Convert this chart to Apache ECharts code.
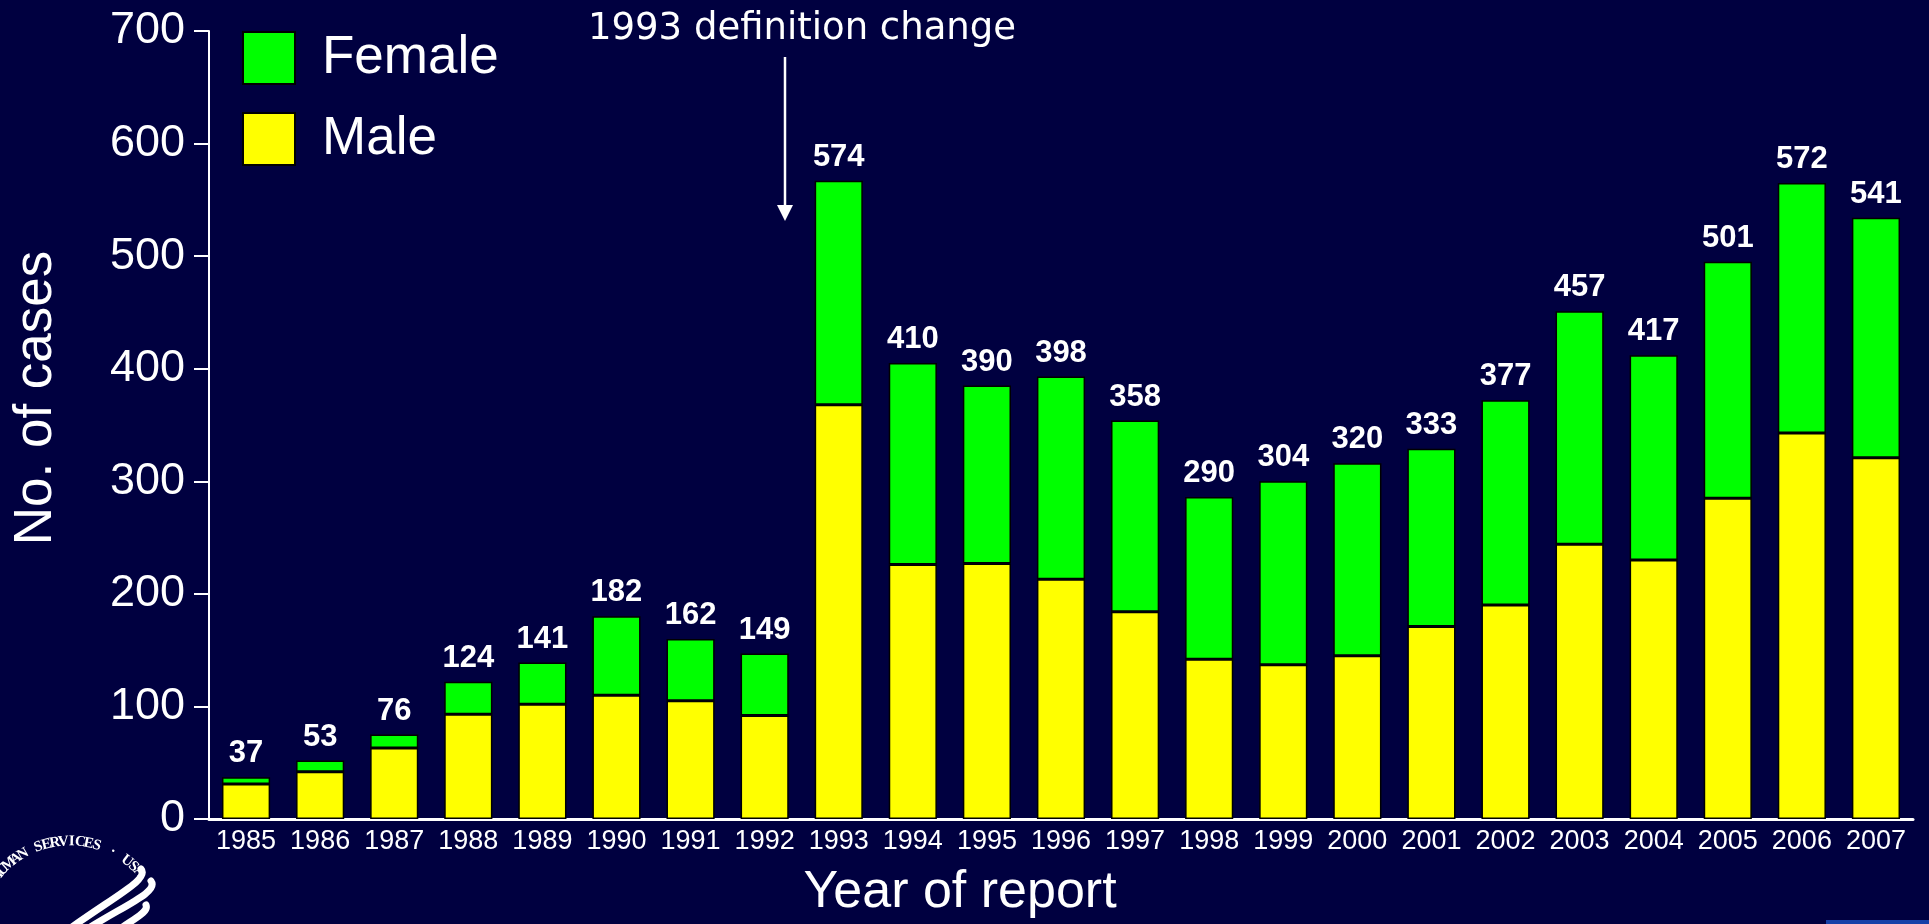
<!DOCTYPE html>
<html>
<head>
<meta charset="utf-8">
<title>No. of cases by year of report</title>
<script src="https://cdn.jsdelivr.net/npm/echarts@6.0.0/dist/echarts.min.js"></script>
<style>
  html, body { margin: 0; padding: 0; background: #000040; }
  #chart { width: 1929px; height: 924px; }
</style>
</head>
<body>
<div id="chart"></div>
<script>
// values
var years = ["1985", "1986", "1987", "1988", "1989", "1990", "1991", "1992", "1993", "1994", "1995", "1996",
  "1997", "1998", "1999", "2000", "2001", "2002", "2003", "2004", "2005", "2006", "2007"];
var male = [31, 42, 63, 93, 102, 110, 105, 92, 368, 226, 227, 213, 184, 142, 137, 145, 171, 190, 244, 230, 285, 343, 321];
var female = [6, 10, 12, 29, 37, 70, 55, 55, 199, 179, 158, 180, 170, 144, 163, 171, 158, 182, 207, 182, 210, 222, 213];
var totals = [37, 53, 76, 124, 141, 182, 162, 149, 574, 410, 390, 398, 358, 290, 304, 320, 333, 377, 457, 417, 501, 572, 541];

var font = "'Liberation Sans', Arial, sans-serif";

var chart = echarts.init(document.getElementById("chart"));

// seal text along an arc, bottom left corner
var sealText = "HUMAN SERVICES \u00b7 USA";
var seal = [];
var a0 = 219, a1 = 318;
for (var i = 0; i < sealText.length; i++) {
  var a = (a0 + (a1 - a0) * i / (sealText.length - 1)) * Math.PI / 180;
  seal.push({
    type: "text",
    x: 70 + 86 * Math.cos(a),
    y: 935 + 86 * Math.sin(a),
    rotation: -(a + Math.PI / 2),
    style: {
      text: sealText[i],
      fill: "#fff",
      font: "bold 15px 'Liberation Serif', serif",
      align: "center",
      verticalAlign: "bottom"
    }
  });
}
var stripes = [
  [141, 869, 149, 879, 120, 893, 72, 927],
  [151, 881, 159, 892, 125, 905, 84, 931],
  [146, 905, 149, 912, 135, 918, 117, 931]
];
stripes.forEach(function (s) {
  seal.push({
    type: "bezierCurve",
    shape: { x1: s[0], y1: s[1], cpx1: s[2], cpy1: s[3], cpx2: s[4], cpy2: s[5], x2: s[6], y2: s[7] },
    style: { stroke: "#fff", lineWidth: 7, lineCap: "round", fill: null }
  });
});

var option = {
  backgroundColor: "#000040",
  animation: false,
  grid: { left: 209, right: 16, top: 31, bottom: 102 },
  legend: {
    data: ["Female", "Male"],
    orient: "vertical",
    left: 242,
    top: 31,
    padding: 0,
    icon: "rect",
    itemWidth: 52,
    itemHeight: 52,
    itemGap: 27,
    textStyle: { color: "#fff", fontSize: 53, fontFamily: font, padding: [0, 0, 0, 22] }
  },
  xAxis: {
    type: "category",
    data: years,
    name: "Year of report",
    nameLocation: "middle",
    nameGap: 48,
    nameTextStyle: { color: "#fff", fontSize: 52, fontFamily: font, padding: [0, 202, 0, 0] },
    axisLine: { lineStyle: { color: "#fff", width: 3 } },
    axisTick: { length: 12, lineStyle: { color: "#fff", width: 3 } },
    axisLabel: { color: "#fff", fontSize: 27, fontFamily: font, margin: 9, interval: 0 }
  },
  yAxis: {
    type: "value",
    min: 0,
    max: 700,
    interval: 100,
    name: "No. of cases",
    nameLocation: "middle",
    nameGap: 146,
    nameTextStyle: { color: "#fff", fontSize: 53, fontFamily: font, padding: [0, 0, 0, 54] },
    axisLine: { show: true, lineStyle: { color: "#fff", width: 2 } },
    axisTick: { show: true, length: 15, lineStyle: { color: "#fff", width: 2 } },
    axisLabel: { color: "#fff", fontSize: 45, fontFamily: font, margin: 24 },
    splitLine: { show: false }
  },
  series: [
    {
      name: "Male",
      type: "bar",
      stack: "cases",
      data: male,
      barCategoryGap: "35%",
      itemStyle: { color: "#ffff00", borderColor: "#000", borderWidth: 1.5 }
    },
    {
      name: "Female",
      type: "bar",
      stack: "cases",
      data: female,
      itemStyle: { color: "#00ff00", borderColor: "#000", borderWidth: 1.5 },
      label: {
        show: true,
        position: "top",
        distance: 8,
        color: "#fff",
        fontSize: 31,
        fontWeight: "bold",
        fontFamily: font,
        formatter: function (p) { return totals[p.dataIndex]; }
      }
    }
  ],
  graphic: [
    {
      type: "text",
      x: 802,
      y: 29,
      style: {
        text: "1993 definition change",
        fill: "#fff",
        font: "37px 'DejaVu Sans', sans-serif",
        align: "center",
        verticalAlign: "middle"
      }
    },
    {
      type: "line",
      shape: { x1: 785, y1: 57, x2: 785, y2: 208 },
      style: { stroke: "#fff", lineWidth: 2.5 }
    },
    {
      type: "polygon",
      shape: { points: [[777, 205], [793, 205], [785, 221]] },
      style: { fill: "#fff" }
    },
    {
      type: "rect",
      shape: { x: 1826, y: 920, width: 103, height: 4 },
      style: { fill: "#1640a8" }
    }
  ].concat(seal)
};

chart.setOption(option);
</script>
</body>
</html>
